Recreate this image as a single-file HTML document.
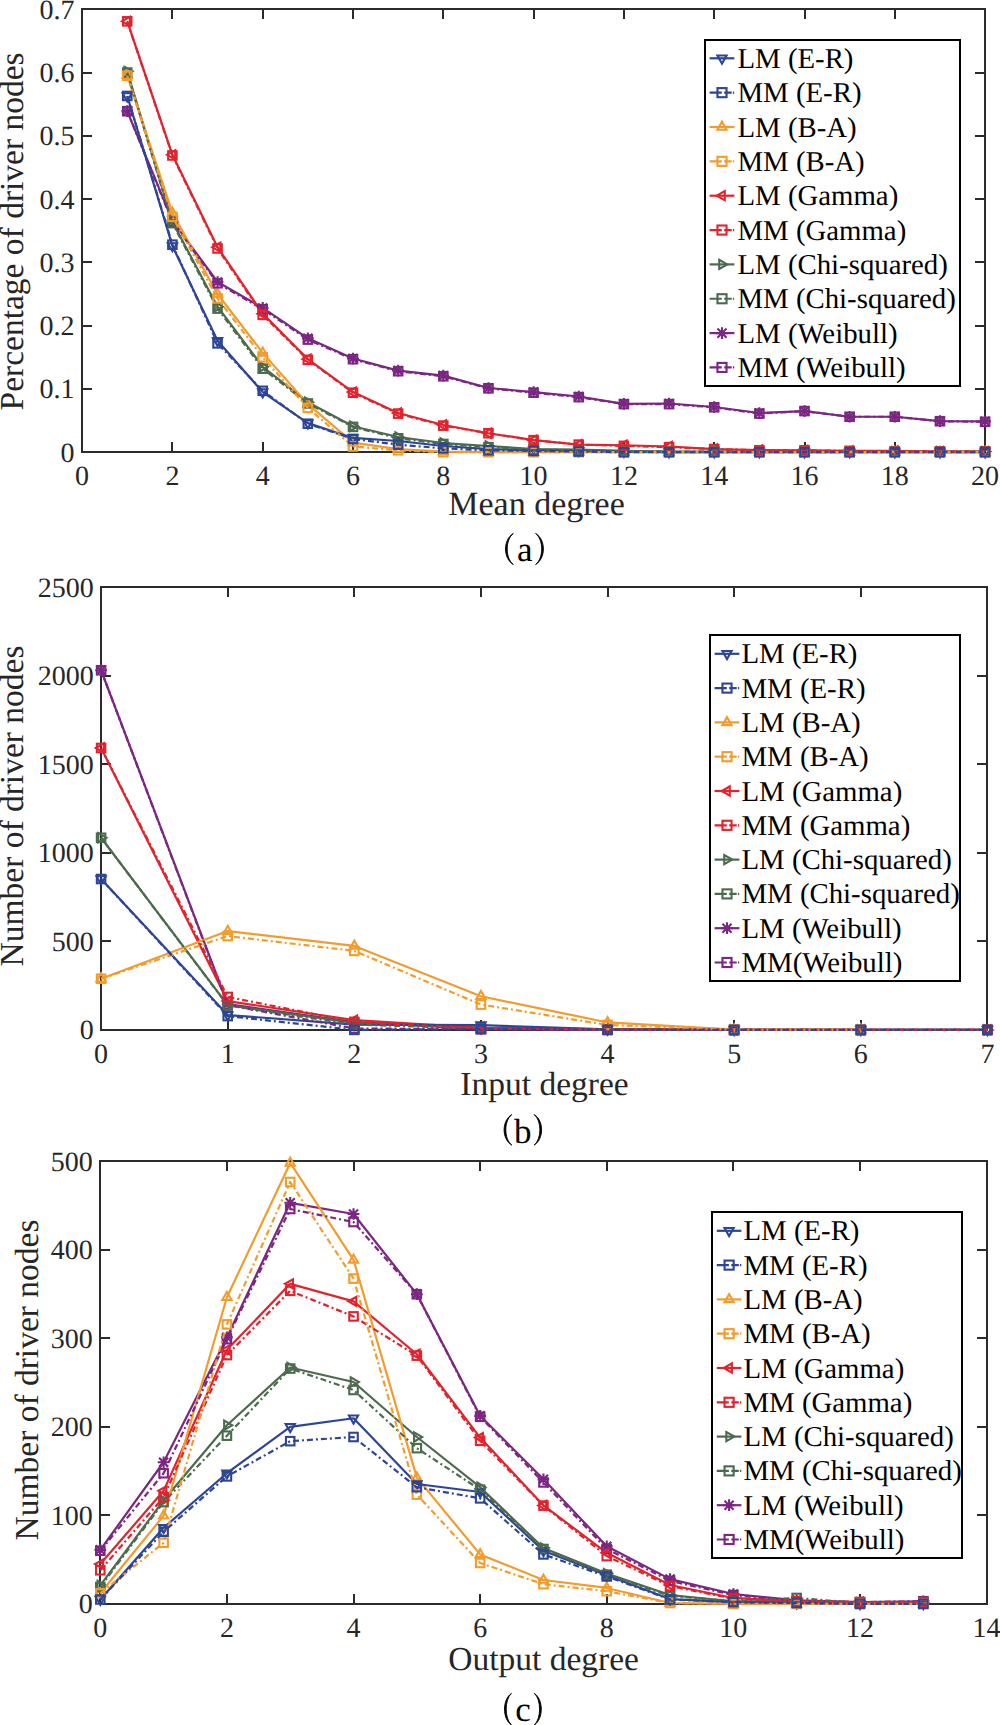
<!DOCTYPE html>
<html><head><meta charset="utf-8"><title>Driver nodes</title>
<style>
html,body{margin:0;padding:0;background:#fff;}
body{width:1000px;height:1725px;overflow:hidden;}
svg{display:block;}
text{font-family:"Liberation Serif", serif;fill:#262626;text-rendering:geometricPrecision;}
</style></head>
<body>
<svg width="1000" height="1725" viewBox="0 0 1000 1725">
<rect width="1000" height="1725" fill="#fff"/>
<path d="M82 452V442M82 9V19M172 452V442M172 9V19M263 452V442M263 9V19M353 452V442M353 9V19M443 452V442M443 9V19M534 452V442M534 9V19M624 452V442M624 9V19M714 452V442M714 9V19M805 452V442M805 9V19M895 452V442M895 9V19M985 452V442M985 9V19M82 452H92M985 452H975M82 389H92M985 389H975M82 326H92M985 326H975M82 262H92M985 262H975M82 199H92M985 199H975M82 136H92M985 136H975M82 73H92M985 73H975M82 9H92M985 9H975" stroke="#2b2b2b" stroke-width="2" fill="none"/><rect x="82" y="9" width="903" height="443" fill="none" stroke="#2b2b2b" stroke-width="2"/><text x="82.1" y="484.7" text-anchor="middle" font-size="28">0</text><text x="172.4" y="484.7" text-anchor="middle" font-size="28">2</text><text x="262.7" y="484.7" text-anchor="middle" font-size="28">4</text><text x="353" y="484.7" text-anchor="middle" font-size="28">6</text><text x="443.3" y="484.7" text-anchor="middle" font-size="28">8</text><text x="533.6" y="484.7" text-anchor="middle" font-size="28">10</text><text x="623.9" y="484.7" text-anchor="middle" font-size="28">12</text><text x="714.2" y="484.7" text-anchor="middle" font-size="28">14</text><text x="804.5" y="484.7" text-anchor="middle" font-size="28">16</text><text x="894.8" y="484.7" text-anchor="middle" font-size="28">18</text><text x="985.1" y="484.7" text-anchor="middle" font-size="28">20</text><text x="74.5" y="461.7" text-anchor="end" font-size="28">0</text><text x="74.5" y="398.43" text-anchor="end" font-size="28">0.1</text><text x="74.5" y="335.16" text-anchor="end" font-size="28">0.2</text><text x="74.5" y="271.89" text-anchor="end" font-size="28">0.3</text><text x="74.5" y="208.61" text-anchor="end" font-size="28">0.4</text><text x="74.5" y="145.34" text-anchor="end" font-size="28">0.5</text><text x="74.5" y="82.07" text-anchor="end" font-size="28">0.6</text><text x="74.5" y="18.8" text-anchor="end" font-size="28">0.7</text><text x="536.5" y="514.6" text-anchor="middle" font-size="34">Mean degree</text><text transform="translate(23 231.4) rotate(-90)" text-anchor="middle" font-size="33.5">Percentage of driver nodes</text><path d="M513.3 533.5C502.9 539.7 502.9 558.3 513.3 564.5C505.17 558.3 505.17 539.7 513.3 533.5Z" fill="#000" stroke="#000" stroke-width="0.9" stroke-linejoin="round"/><path d="M535.6 533.5C546 539.7 546 558.3 535.6 564.5C543.73 558.3 543.73 539.7 535.6 533.5Z" fill="#000" stroke="#000" stroke-width="0.9" stroke-linejoin="round"/><text x="524.8" y="561" text-anchor="middle" font-size="35" style="fill:#000">a</text><path d="M127.25 111.17L172.4 220.63L217.55 282L262.7 307.94L307.85 338.31L353 358.56L398.15 370.58L443.3 375.64L488.45 387.98L533.6 392.09L578.75 396.52L623.9 403.8L669.05 403.48L714.2 407.02L759.35 412.97L804.5 411.07L849.65 416.77L894.8 416.77L939.95 421.2L985.1 421.39" fill="none" stroke="#7b2682" stroke-width="2.2" stroke-linejoin="round"/><path d="M127.25 105.34V117M121.42 111.17H133.08M122.7 106.62L131.8 115.71M122.7 115.71L131.8 106.62" stroke="#7b2682" stroke-width="2.1" fill="none"/><path d="M172.4 214.8V226.46M166.57 220.63H178.23M167.85 216.08L176.95 225.17M167.85 225.17L176.95 216.08" stroke="#7b2682" stroke-width="2.1" fill="none"/><path d="M217.55 276.17V287.83M211.72 282H223.38M213 277.45L222.1 286.55M213 286.55L222.1 277.45" stroke="#7b2682" stroke-width="2.1" fill="none"/><path d="M262.7 302.11V313.77M256.87 307.94H268.53M258.15 303.39L267.25 312.49M258.15 312.49L267.25 303.39" stroke="#7b2682" stroke-width="2.1" fill="none"/><path d="M307.85 332.48V344.14M302.02 338.31H313.68M303.3 333.76L312.4 342.86M303.3 342.86L312.4 333.76" stroke="#7b2682" stroke-width="2.1" fill="none"/><path d="M353 352.73V364.39M347.17 358.56H358.83M348.45 354.01L357.55 363.11M348.45 363.11L357.55 354.01" stroke="#7b2682" stroke-width="2.1" fill="none"/><path d="M398.15 364.75V376.41M392.32 370.58H403.98M393.6 366.03L402.7 375.13M393.6 375.13L402.7 366.03" stroke="#7b2682" stroke-width="2.1" fill="none"/><path d="M443.3 369.81V381.47M437.47 375.64H449.13M438.75 371.09L447.85 380.19M438.75 380.19L447.85 371.09" stroke="#7b2682" stroke-width="2.1" fill="none"/><path d="M488.45 382.15V393.81M482.62 387.98H494.28M483.9 383.43L493 392.53M483.9 392.53L493 383.43" stroke="#7b2682" stroke-width="2.1" fill="none"/><path d="M533.6 386.26V397.92M527.77 392.09H539.43M529.05 387.54L538.15 396.64M529.05 396.64L538.15 387.54" stroke="#7b2682" stroke-width="2.1" fill="none"/><path d="M578.75 390.69V402.35M572.92 396.52H584.58M574.2 391.97L583.3 401.07M574.2 401.07L583.3 391.97" stroke="#7b2682" stroke-width="2.1" fill="none"/><path d="M623.9 397.97V409.63M618.07 403.8H629.73M619.35 399.25L628.45 408.34M619.35 408.34L628.45 399.25" stroke="#7b2682" stroke-width="2.1" fill="none"/><path d="M669.05 397.65V409.31M663.22 403.48H674.88M664.5 398.93L673.6 408.03M664.5 408.03L673.6 398.93" stroke="#7b2682" stroke-width="2.1" fill="none"/><path d="M714.2 401.19V412.85M708.37 407.02H720.03M709.65 402.48L718.75 411.57M709.65 411.57L718.75 402.48" stroke="#7b2682" stroke-width="2.1" fill="none"/><path d="M759.35 407.14V418.8M753.52 412.97H765.18M754.8 408.42L763.9 417.52M754.8 417.52L763.9 408.42" stroke="#7b2682" stroke-width="2.1" fill="none"/><path d="M804.5 405.24V416.9M798.67 411.07H810.33M799.95 406.53L809.05 415.62M799.95 415.62L809.05 406.53" stroke="#7b2682" stroke-width="2.1" fill="none"/><path d="M849.65 410.94V422.6M843.82 416.77H855.48M845.1 412.22L854.2 421.32M845.1 421.32L854.2 412.22" stroke="#7b2682" stroke-width="2.1" fill="none"/><path d="M894.8 410.94V422.6M888.97 416.77H900.63M890.25 412.22L899.35 421.32M890.25 421.32L899.35 412.22" stroke="#7b2682" stroke-width="2.1" fill="none"/><path d="M939.95 415.37V427.03M934.12 421.2H945.78M935.4 416.65L944.5 425.74M935.4 425.74L944.5 416.65" stroke="#7b2682" stroke-width="2.1" fill="none"/><path d="M985.1 415.56V427.22M979.27 421.39H990.93M980.55 416.84L989.65 425.93M980.55 425.93L989.65 416.84" stroke="#7b2682" stroke-width="2.1" fill="none"/><path d="M127.25 71.31L172.4 221.89L217.55 306.68L262.7 366.78L307.85 402.22L353 426.26L398.15 437.01L443.3 443.03L488.45 446L533.6 449.04L578.75 449.67L623.9 450.93L669.05 451.57L714.2 451.57L759.35 451.57L804.5 451.57L849.65 451.57L894.8 451.57L939.95 451.57L985.1 451.57" fill="none" stroke="#4c6b4e" stroke-width="2.2" stroke-linejoin="round"/><polygon points="124.49,66.71 124.49,75.91 132.54,71.31" fill="none" stroke="#4c6b4e" stroke-width="2.1" stroke-linejoin="miter"/><polygon points="169.64,217.29 169.64,226.49 177.69,221.89" fill="none" stroke="#4c6b4e" stroke-width="2.1" stroke-linejoin="miter"/><polygon points="214.79,302.08 214.79,311.28 222.84,306.68" fill="none" stroke="#4c6b4e" stroke-width="2.1" stroke-linejoin="miter"/><polygon points="259.94,362.18 259.94,371.38 267.99,366.78" fill="none" stroke="#4c6b4e" stroke-width="2.1" stroke-linejoin="miter"/><polygon points="305.09,397.62 305.09,406.82 313.14,402.22" fill="none" stroke="#4c6b4e" stroke-width="2.1" stroke-linejoin="miter"/><polygon points="350.24,421.66 350.24,430.86 358.29,426.26" fill="none" stroke="#4c6b4e" stroke-width="2.1" stroke-linejoin="miter"/><polygon points="395.39,432.41 395.39,441.61 403.44,437.01" fill="none" stroke="#4c6b4e" stroke-width="2.1" stroke-linejoin="miter"/><polygon points="440.54,438.43 440.54,447.63 448.59,443.03" fill="none" stroke="#4c6b4e" stroke-width="2.1" stroke-linejoin="miter"/><polygon points="485.69,441.4 485.69,450.6 493.74,446" fill="none" stroke="#4c6b4e" stroke-width="2.1" stroke-linejoin="miter"/><polygon points="530.84,444.44 530.84,453.64 538.89,449.04" fill="none" stroke="#4c6b4e" stroke-width="2.1" stroke-linejoin="miter"/><polygon points="575.99,445.07 575.99,454.27 584.04,449.67" fill="none" stroke="#4c6b4e" stroke-width="2.1" stroke-linejoin="miter"/><polygon points="621.14,446.33 621.14,455.53 629.19,450.93" fill="none" stroke="#4c6b4e" stroke-width="2.1" stroke-linejoin="miter"/><polygon points="666.29,446.97 666.29,456.17 674.34,451.57" fill="none" stroke="#4c6b4e" stroke-width="2.1" stroke-linejoin="miter"/><polygon points="711.44,446.97 711.44,456.17 719.49,451.57" fill="none" stroke="#4c6b4e" stroke-width="2.1" stroke-linejoin="miter"/><polygon points="756.59,446.97 756.59,456.17 764.64,451.57" fill="none" stroke="#4c6b4e" stroke-width="2.1" stroke-linejoin="miter"/><polygon points="801.74,446.97 801.74,456.17 809.79,451.57" fill="none" stroke="#4c6b4e" stroke-width="2.1" stroke-linejoin="miter"/><polygon points="846.89,446.97 846.89,456.17 854.94,451.57" fill="none" stroke="#4c6b4e" stroke-width="2.1" stroke-linejoin="miter"/><polygon points="892.04,446.97 892.04,456.17 900.09,451.57" fill="none" stroke="#4c6b4e" stroke-width="2.1" stroke-linejoin="miter"/><polygon points="937.19,446.97 937.19,456.17 945.24,451.57" fill="none" stroke="#4c6b4e" stroke-width="2.1" stroke-linejoin="miter"/><polygon points="982.34,446.97 982.34,456.17 990.39,451.57" fill="none" stroke="#4c6b4e" stroke-width="2.1" stroke-linejoin="miter"/><path d="M127.25 21.32L172.4 154.82L217.55 247.2L262.7 313.64L307.85 359.19L353 392.09L398.15 412.97L443.3 424.99L488.45 433.22L533.6 440.18L578.75 444.61L623.9 445.24L669.05 446.51L714.2 449.04L759.35 449.99L804.5 450.3L849.65 450.93L894.8 450.93L939.95 451.57L985.1 451.57" fill="none" stroke="#e2232d" stroke-width="2.2" stroke-linejoin="round"/><polygon points="130.01,16.72 130.01,25.92 121.96,21.32" fill="none" stroke="#e2232d" stroke-width="2.1" stroke-linejoin="miter"/><polygon points="175.16,150.22 175.16,159.42 167.11,154.82" fill="none" stroke="#e2232d" stroke-width="2.1" stroke-linejoin="miter"/><polygon points="220.31,242.6 220.31,251.8 212.26,247.2" fill="none" stroke="#e2232d" stroke-width="2.1" stroke-linejoin="miter"/><polygon points="265.46,309.04 265.46,318.24 257.41,313.64" fill="none" stroke="#e2232d" stroke-width="2.1" stroke-linejoin="miter"/><polygon points="310.61,354.59 310.61,363.79 302.56,359.19" fill="none" stroke="#e2232d" stroke-width="2.1" stroke-linejoin="miter"/><polygon points="355.76,387.49 355.76,396.69 347.71,392.09" fill="none" stroke="#e2232d" stroke-width="2.1" stroke-linejoin="miter"/><polygon points="400.91,408.37 400.91,417.57 392.86,412.97" fill="none" stroke="#e2232d" stroke-width="2.1" stroke-linejoin="miter"/><polygon points="446.06,420.39 446.06,429.59 438.01,424.99" fill="none" stroke="#e2232d" stroke-width="2.1" stroke-linejoin="miter"/><polygon points="491.21,428.62 491.21,437.82 483.16,433.22" fill="none" stroke="#e2232d" stroke-width="2.1" stroke-linejoin="miter"/><polygon points="536.36,435.58 536.36,444.78 528.31,440.18" fill="none" stroke="#e2232d" stroke-width="2.1" stroke-linejoin="miter"/><polygon points="581.51,440.01 581.51,449.21 573.46,444.61" fill="none" stroke="#e2232d" stroke-width="2.1" stroke-linejoin="miter"/><polygon points="626.66,440.64 626.66,449.84 618.61,445.24" fill="none" stroke="#e2232d" stroke-width="2.1" stroke-linejoin="miter"/><polygon points="671.81,441.91 671.81,451.11 663.76,446.51" fill="none" stroke="#e2232d" stroke-width="2.1" stroke-linejoin="miter"/><polygon points="716.96,444.44 716.96,453.64 708.91,449.04" fill="none" stroke="#e2232d" stroke-width="2.1" stroke-linejoin="miter"/><polygon points="762.11,445.39 762.11,454.59 754.06,449.99" fill="none" stroke="#e2232d" stroke-width="2.1" stroke-linejoin="miter"/><polygon points="807.26,445.7 807.26,454.9 799.21,450.3" fill="none" stroke="#e2232d" stroke-width="2.1" stroke-linejoin="miter"/><polygon points="852.41,446.33 852.41,455.53 844.36,450.93" fill="none" stroke="#e2232d" stroke-width="2.1" stroke-linejoin="miter"/><polygon points="897.56,446.33 897.56,455.53 889.51,450.93" fill="none" stroke="#e2232d" stroke-width="2.1" stroke-linejoin="miter"/><polygon points="942.71,446.97 942.71,456.17 934.66,451.57" fill="none" stroke="#e2232d" stroke-width="2.1" stroke-linejoin="miter"/><polygon points="987.86,446.97 987.86,456.17 979.81,451.57" fill="none" stroke="#e2232d" stroke-width="2.1" stroke-linejoin="miter"/><path d="M127.25 75.1L172.4 213.03L217.55 294.02L262.7 352.86L307.85 404.11L353 442.71L398.15 449.04L443.3 451.57L488.45 452.2L533.6 452.2L578.75 452.2L623.9 452.2L669.05 452.2L714.2 452.2L759.35 452.2L804.5 452.2L849.65 452.2L894.8 452.2L939.95 452.2L985.1 452.2" fill="none" stroke="#f39c2c" stroke-width="2.2" stroke-linejoin="round"/><polygon points="122.65,77.86 131.85,77.86 127.25,69.81" fill="none" stroke="#f39c2c" stroke-width="2.1" stroke-linejoin="miter"/><polygon points="167.8,215.79 177,215.79 172.4,207.74" fill="none" stroke="#f39c2c" stroke-width="2.1" stroke-linejoin="miter"/><polygon points="212.95,296.78 222.15,296.78 217.55,288.73" fill="none" stroke="#f39c2c" stroke-width="2.1" stroke-linejoin="miter"/><polygon points="258.1,355.62 267.3,355.62 262.7,347.57" fill="none" stroke="#f39c2c" stroke-width="2.1" stroke-linejoin="miter"/><polygon points="303.25,406.87 312.45,406.87 307.85,398.82" fill="none" stroke="#f39c2c" stroke-width="2.1" stroke-linejoin="miter"/><polygon points="348.4,445.47 357.6,445.47 353,437.42" fill="none" stroke="#f39c2c" stroke-width="2.1" stroke-linejoin="miter"/><polygon points="393.55,451.8 402.75,451.8 398.15,443.75" fill="none" stroke="#f39c2c" stroke-width="2.1" stroke-linejoin="miter"/><polygon points="438.7,454.33 447.9,454.33 443.3,446.28" fill="none" stroke="#f39c2c" stroke-width="2.1" stroke-linejoin="miter"/><polygon points="483.85,454.96 493.05,454.96 488.45,446.91" fill="none" stroke="#f39c2c" stroke-width="2.1" stroke-linejoin="miter"/><polygon points="529,454.96 538.2,454.96 533.6,446.91" fill="none" stroke="#f39c2c" stroke-width="2.1" stroke-linejoin="miter"/><polygon points="574.15,454.96 583.35,454.96 578.75,446.91" fill="none" stroke="#f39c2c" stroke-width="2.1" stroke-linejoin="miter"/><polygon points="619.3,454.96 628.5,454.96 623.9,446.91" fill="none" stroke="#f39c2c" stroke-width="2.1" stroke-linejoin="miter"/><polygon points="664.45,454.96 673.65,454.96 669.05,446.91" fill="none" stroke="#f39c2c" stroke-width="2.1" stroke-linejoin="miter"/><polygon points="709.6,454.96 718.8,454.96 714.2,446.91" fill="none" stroke="#f39c2c" stroke-width="2.1" stroke-linejoin="miter"/><polygon points="754.75,454.96 763.95,454.96 759.35,446.91" fill="none" stroke="#f39c2c" stroke-width="2.1" stroke-linejoin="miter"/><polygon points="799.9,454.96 809.1,454.96 804.5,446.91" fill="none" stroke="#f39c2c" stroke-width="2.1" stroke-linejoin="miter"/><polygon points="845.05,454.96 854.25,454.96 849.65,446.91" fill="none" stroke="#f39c2c" stroke-width="2.1" stroke-linejoin="miter"/><polygon points="890.2,454.96 899.4,454.96 894.8,446.91" fill="none" stroke="#f39c2c" stroke-width="2.1" stroke-linejoin="miter"/><polygon points="935.35,454.96 944.55,454.96 939.95,446.91" fill="none" stroke="#f39c2c" stroke-width="2.1" stroke-linejoin="miter"/><polygon points="980.5,454.96 989.7,454.96 985.1,446.91" fill="none" stroke="#f39c2c" stroke-width="2.1" stroke-linejoin="miter"/><path d="M127.25 95.98L172.4 245.94L217.55 340.84L262.7 392.09L307.85 423.1L353 437.96L398.15 441L443.3 446L488.45 449.04L533.6 450.3L578.75 450.93L623.9 451.57L669.05 452.2L714.2 452.2L759.35 452.2L804.5 452.2L849.65 452.2L894.8 452.2L939.95 452.2L985.1 452.2" fill="none" stroke="#2d4597" stroke-width="2.2" stroke-linejoin="round"/><polygon points="122.65,93.22 131.85,93.22 127.25,101.27" fill="none" stroke="#2d4597" stroke-width="2.1" stroke-linejoin="miter"/><polygon points="167.8,243.18 177,243.18 172.4,251.23" fill="none" stroke="#2d4597" stroke-width="2.1" stroke-linejoin="miter"/><polygon points="212.95,338.08 222.15,338.08 217.55,346.13" fill="none" stroke="#2d4597" stroke-width="2.1" stroke-linejoin="miter"/><polygon points="258.1,389.33 267.3,389.33 262.7,397.38" fill="none" stroke="#2d4597" stroke-width="2.1" stroke-linejoin="miter"/><polygon points="303.25,420.34 312.45,420.34 307.85,428.39" fill="none" stroke="#2d4597" stroke-width="2.1" stroke-linejoin="miter"/><polygon points="348.4,435.2 357.6,435.2 353,443.25" fill="none" stroke="#2d4597" stroke-width="2.1" stroke-linejoin="miter"/><polygon points="393.55,438.24 402.75,438.24 398.15,446.29" fill="none" stroke="#2d4597" stroke-width="2.1" stroke-linejoin="miter"/><polygon points="438.7,443.24 447.9,443.24 443.3,451.29" fill="none" stroke="#2d4597" stroke-width="2.1" stroke-linejoin="miter"/><polygon points="483.85,446.28 493.05,446.28 488.45,454.33" fill="none" stroke="#2d4597" stroke-width="2.1" stroke-linejoin="miter"/><polygon points="529,447.54 538.2,447.54 533.6,455.59" fill="none" stroke="#2d4597" stroke-width="2.1" stroke-linejoin="miter"/><polygon points="574.15,448.17 583.35,448.17 578.75,456.22" fill="none" stroke="#2d4597" stroke-width="2.1" stroke-linejoin="miter"/><polygon points="619.3,448.81 628.5,448.81 623.9,456.86" fill="none" stroke="#2d4597" stroke-width="2.1" stroke-linejoin="miter"/><polygon points="664.45,449.44 673.65,449.44 669.05,457.49" fill="none" stroke="#2d4597" stroke-width="2.1" stroke-linejoin="miter"/><polygon points="709.6,449.44 718.8,449.44 714.2,457.49" fill="none" stroke="#2d4597" stroke-width="2.1" stroke-linejoin="miter"/><polygon points="754.75,449.44 763.95,449.44 759.35,457.49" fill="none" stroke="#2d4597" stroke-width="2.1" stroke-linejoin="miter"/><polygon points="799.9,449.44 809.1,449.44 804.5,457.49" fill="none" stroke="#2d4597" stroke-width="2.1" stroke-linejoin="miter"/><polygon points="845.05,449.44 854.25,449.44 849.65,457.49" fill="none" stroke="#2d4597" stroke-width="2.1" stroke-linejoin="miter"/><polygon points="890.2,449.44 899.4,449.44 894.8,457.49" fill="none" stroke="#2d4597" stroke-width="2.1" stroke-linejoin="miter"/><polygon points="935.35,449.44 944.55,449.44 939.95,457.49" fill="none" stroke="#2d4597" stroke-width="2.1" stroke-linejoin="miter"/><polygon points="980.5,449.44 989.7,449.44 985.1,457.49" fill="none" stroke="#2d4597" stroke-width="2.1" stroke-linejoin="miter"/><path d="M127.25 111.17L172.4 221.89L217.55 283.27L262.7 309.21L307.85 339.58L353 359.19L398.15 371.21L443.3 376.27L488.45 388.3L533.6 392.72L578.75 397.15L623.9 404.11L669.05 404.11L714.2 407.28L759.35 413.6L804.5 411.07L849.65 416.77L894.8 416.77L939.95 421.2L985.1 421.83" fill="none" stroke="#7b2682" stroke-width="2.2" stroke-linejoin="round" stroke-dasharray="6 3 2 3"/><rect x="123" y="106.92" width="8.5" height="8.5" fill="none" stroke="#7b2682" stroke-width="2.1"/><rect x="168.15" y="217.64" width="8.5" height="8.5" fill="none" stroke="#7b2682" stroke-width="2.1"/><rect x="213.3" y="279.02" width="8.5" height="8.5" fill="none" stroke="#7b2682" stroke-width="2.1"/><rect x="258.45" y="304.96" width="8.5" height="8.5" fill="none" stroke="#7b2682" stroke-width="2.1"/><rect x="303.6" y="335.33" width="8.5" height="8.5" fill="none" stroke="#7b2682" stroke-width="2.1"/><rect x="348.75" y="354.94" width="8.5" height="8.5" fill="none" stroke="#7b2682" stroke-width="2.1"/><rect x="393.9" y="366.96" width="8.5" height="8.5" fill="none" stroke="#7b2682" stroke-width="2.1"/><rect x="439.05" y="372.02" width="8.5" height="8.5" fill="none" stroke="#7b2682" stroke-width="2.1"/><rect x="484.2" y="384.05" width="8.5" height="8.5" fill="none" stroke="#7b2682" stroke-width="2.1"/><rect x="529.35" y="388.47" width="8.5" height="8.5" fill="none" stroke="#7b2682" stroke-width="2.1"/><rect x="574.5" y="392.9" width="8.5" height="8.5" fill="none" stroke="#7b2682" stroke-width="2.1"/><rect x="619.65" y="399.86" width="8.5" height="8.5" fill="none" stroke="#7b2682" stroke-width="2.1"/><rect x="664.8" y="399.86" width="8.5" height="8.5" fill="none" stroke="#7b2682" stroke-width="2.1"/><rect x="709.95" y="403.03" width="8.5" height="8.5" fill="none" stroke="#7b2682" stroke-width="2.1"/><rect x="755.1" y="409.35" width="8.5" height="8.5" fill="none" stroke="#7b2682" stroke-width="2.1"/><rect x="800.25" y="406.82" width="8.5" height="8.5" fill="none" stroke="#7b2682" stroke-width="2.1"/><rect x="845.4" y="412.52" width="8.5" height="8.5" fill="none" stroke="#7b2682" stroke-width="2.1"/><rect x="890.55" y="412.52" width="8.5" height="8.5" fill="none" stroke="#7b2682" stroke-width="2.1"/><rect x="935.7" y="416.95" width="8.5" height="8.5" fill="none" stroke="#7b2682" stroke-width="2.1"/><rect x="980.85" y="417.58" width="8.5" height="8.5" fill="none" stroke="#7b2682" stroke-width="2.1"/><path d="M127.25 72.57L172.4 223.16L217.55 308.57L262.7 368.68L307.85 403.48L353 426.89L398.15 438.28L443.3 443.97L488.45 447.14L533.6 449.67L578.75 450.3L623.9 450.93L669.05 451.57L714.2 451.57L759.35 451.57L804.5 451.57L849.65 451.57L894.8 451.57L939.95 451.57L985.1 451.57" fill="none" stroke="#4c6b4e" stroke-width="2.2" stroke-linejoin="round" stroke-dasharray="6 3 2 3"/><rect x="123" y="68.32" width="8.5" height="8.5" fill="none" stroke="#4c6b4e" stroke-width="2.1"/><rect x="168.15" y="218.91" width="8.5" height="8.5" fill="none" stroke="#4c6b4e" stroke-width="2.1"/><rect x="213.3" y="304.32" width="8.5" height="8.5" fill="none" stroke="#4c6b4e" stroke-width="2.1"/><rect x="258.45" y="364.43" width="8.5" height="8.5" fill="none" stroke="#4c6b4e" stroke-width="2.1"/><rect x="303.6" y="399.23" width="8.5" height="8.5" fill="none" stroke="#4c6b4e" stroke-width="2.1"/><rect x="348.75" y="422.64" width="8.5" height="8.5" fill="none" stroke="#4c6b4e" stroke-width="2.1"/><rect x="393.9" y="434.03" width="8.5" height="8.5" fill="none" stroke="#4c6b4e" stroke-width="2.1"/><rect x="439.05" y="439.72" width="8.5" height="8.5" fill="none" stroke="#4c6b4e" stroke-width="2.1"/><rect x="484.2" y="442.89" width="8.5" height="8.5" fill="none" stroke="#4c6b4e" stroke-width="2.1"/><rect x="529.35" y="445.42" width="8.5" height="8.5" fill="none" stroke="#4c6b4e" stroke-width="2.1"/><rect x="574.5" y="446.05" width="8.5" height="8.5" fill="none" stroke="#4c6b4e" stroke-width="2.1"/><rect x="619.65" y="446.68" width="8.5" height="8.5" fill="none" stroke="#4c6b4e" stroke-width="2.1"/><rect x="664.8" y="447.32" width="8.5" height="8.5" fill="none" stroke="#4c6b4e" stroke-width="2.1"/><rect x="709.95" y="447.32" width="8.5" height="8.5" fill="none" stroke="#4c6b4e" stroke-width="2.1"/><rect x="755.1" y="447.32" width="8.5" height="8.5" fill="none" stroke="#4c6b4e" stroke-width="2.1"/><rect x="800.25" y="447.32" width="8.5" height="8.5" fill="none" stroke="#4c6b4e" stroke-width="2.1"/><rect x="845.4" y="447.32" width="8.5" height="8.5" fill="none" stroke="#4c6b4e" stroke-width="2.1"/><rect x="890.55" y="447.32" width="8.5" height="8.5" fill="none" stroke="#4c6b4e" stroke-width="2.1"/><rect x="935.7" y="447.32" width="8.5" height="8.5" fill="none" stroke="#4c6b4e" stroke-width="2.1"/><rect x="980.85" y="447.32" width="8.5" height="8.5" fill="none" stroke="#4c6b4e" stroke-width="2.1"/><path d="M127.25 21.32L172.4 155.46L217.55 248.47L262.7 314.9L307.85 359.82L353 392.72L398.15 413.6L443.3 425.63L488.45 433.22L533.6 440.18L578.75 444.61L623.9 445.87L669.05 447.14L714.2 449.04L759.35 450.3L804.5 450.3L849.65 450.93L894.8 451.57L939.95 451.57L985.1 451.57" fill="none" stroke="#e2232d" stroke-width="2.2" stroke-linejoin="round" stroke-dasharray="6 3 2 3"/><rect x="123" y="17.07" width="8.5" height="8.5" fill="none" stroke="#e2232d" stroke-width="2.1"/><rect x="168.15" y="151.21" width="8.5" height="8.5" fill="none" stroke="#e2232d" stroke-width="2.1"/><rect x="213.3" y="244.22" width="8.5" height="8.5" fill="none" stroke="#e2232d" stroke-width="2.1"/><rect x="258.45" y="310.65" width="8.5" height="8.5" fill="none" stroke="#e2232d" stroke-width="2.1"/><rect x="303.6" y="355.57" width="8.5" height="8.5" fill="none" stroke="#e2232d" stroke-width="2.1"/><rect x="348.75" y="388.47" width="8.5" height="8.5" fill="none" stroke="#e2232d" stroke-width="2.1"/><rect x="393.9" y="409.35" width="8.5" height="8.5" fill="none" stroke="#e2232d" stroke-width="2.1"/><rect x="439.05" y="421.38" width="8.5" height="8.5" fill="none" stroke="#e2232d" stroke-width="2.1"/><rect x="484.2" y="428.97" width="8.5" height="8.5" fill="none" stroke="#e2232d" stroke-width="2.1"/><rect x="529.35" y="435.93" width="8.5" height="8.5" fill="none" stroke="#e2232d" stroke-width="2.1"/><rect x="574.5" y="440.36" width="8.5" height="8.5" fill="none" stroke="#e2232d" stroke-width="2.1"/><rect x="619.65" y="441.62" width="8.5" height="8.5" fill="none" stroke="#e2232d" stroke-width="2.1"/><rect x="664.8" y="442.89" width="8.5" height="8.5" fill="none" stroke="#e2232d" stroke-width="2.1"/><rect x="709.95" y="444.79" width="8.5" height="8.5" fill="none" stroke="#e2232d" stroke-width="2.1"/><rect x="755.1" y="446.05" width="8.5" height="8.5" fill="none" stroke="#e2232d" stroke-width="2.1"/><rect x="800.25" y="446.05" width="8.5" height="8.5" fill="none" stroke="#e2232d" stroke-width="2.1"/><rect x="845.4" y="446.68" width="8.5" height="8.5" fill="none" stroke="#e2232d" stroke-width="2.1"/><rect x="890.55" y="447.32" width="8.5" height="8.5" fill="none" stroke="#e2232d" stroke-width="2.1"/><rect x="935.7" y="447.32" width="8.5" height="8.5" fill="none" stroke="#e2232d" stroke-width="2.1"/><rect x="980.85" y="447.32" width="8.5" height="8.5" fill="none" stroke="#e2232d" stroke-width="2.1"/><path d="M127.25 75.74L172.4 216.83L217.55 298.45L262.7 357.29L307.85 407.91L353 446.51L398.15 450.3L443.3 452.2L488.45 452.2L533.6 452.2L578.75 452.2L623.9 452.2L669.05 452.2L714.2 452.2L759.35 452.2L804.5 452.2L849.65 452.2L894.8 452.2L939.95 452.2L985.1 452.2" fill="none" stroke="#f39c2c" stroke-width="2.2" stroke-linejoin="round" stroke-dasharray="6 3 2 3"/><rect x="123" y="71.49" width="8.5" height="8.5" fill="none" stroke="#f39c2c" stroke-width="2.1"/><rect x="168.15" y="212.58" width="8.5" height="8.5" fill="none" stroke="#f39c2c" stroke-width="2.1"/><rect x="213.3" y="294.2" width="8.5" height="8.5" fill="none" stroke="#f39c2c" stroke-width="2.1"/><rect x="258.45" y="353.04" width="8.5" height="8.5" fill="none" stroke="#f39c2c" stroke-width="2.1"/><rect x="303.6" y="403.66" width="8.5" height="8.5" fill="none" stroke="#f39c2c" stroke-width="2.1"/><rect x="348.75" y="442.26" width="8.5" height="8.5" fill="none" stroke="#f39c2c" stroke-width="2.1"/><rect x="393.9" y="446.05" width="8.5" height="8.5" fill="none" stroke="#f39c2c" stroke-width="2.1"/><rect x="439.05" y="447.95" width="8.5" height="8.5" fill="none" stroke="#f39c2c" stroke-width="2.1"/><rect x="484.2" y="447.95" width="8.5" height="8.5" fill="none" stroke="#f39c2c" stroke-width="2.1"/><rect x="529.35" y="447.95" width="8.5" height="8.5" fill="none" stroke="#f39c2c" stroke-width="2.1"/><rect x="574.5" y="447.95" width="8.5" height="8.5" fill="none" stroke="#f39c2c" stroke-width="2.1"/><rect x="619.65" y="447.95" width="8.5" height="8.5" fill="none" stroke="#f39c2c" stroke-width="2.1"/><rect x="664.8" y="447.95" width="8.5" height="8.5" fill="none" stroke="#f39c2c" stroke-width="2.1"/><rect x="709.95" y="447.95" width="8.5" height="8.5" fill="none" stroke="#f39c2c" stroke-width="2.1"/><rect x="755.1" y="447.95" width="8.5" height="8.5" fill="none" stroke="#f39c2c" stroke-width="2.1"/><rect x="800.25" y="447.95" width="8.5" height="8.5" fill="none" stroke="#f39c2c" stroke-width="2.1"/><rect x="845.4" y="447.95" width="8.5" height="8.5" fill="none" stroke="#f39c2c" stroke-width="2.1"/><rect x="890.55" y="447.95" width="8.5" height="8.5" fill="none" stroke="#f39c2c" stroke-width="2.1"/><rect x="935.7" y="447.95" width="8.5" height="8.5" fill="none" stroke="#f39c2c" stroke-width="2.1"/><rect x="980.85" y="447.95" width="8.5" height="8.5" fill="none" stroke="#f39c2c" stroke-width="2.1"/><path d="M127.25 95.98L172.4 244.67L217.55 343.37L262.7 390.83L307.85 423.73L353 438.91L398.15 444.61L443.3 448.4L488.45 450.3L533.6 450.93L578.75 451.57L623.9 452.2L669.05 452.2L714.2 452.2L759.35 452.2L804.5 452.2L849.65 452.2L894.8 452.2L939.95 452.2L985.1 452.2" fill="none" stroke="#2d4597" stroke-width="2.2" stroke-linejoin="round" stroke-dasharray="6 3 2 3"/><rect x="123" y="91.73" width="8.5" height="8.5" fill="none" stroke="#2d4597" stroke-width="2.1"/><rect x="168.15" y="240.42" width="8.5" height="8.5" fill="none" stroke="#2d4597" stroke-width="2.1"/><rect x="213.3" y="339.12" width="8.5" height="8.5" fill="none" stroke="#2d4597" stroke-width="2.1"/><rect x="258.45" y="386.58" width="8.5" height="8.5" fill="none" stroke="#2d4597" stroke-width="2.1"/><rect x="303.6" y="419.48" width="8.5" height="8.5" fill="none" stroke="#2d4597" stroke-width="2.1"/><rect x="348.75" y="434.66" width="8.5" height="8.5" fill="none" stroke="#2d4597" stroke-width="2.1"/><rect x="393.9" y="440.36" width="8.5" height="8.5" fill="none" stroke="#2d4597" stroke-width="2.1"/><rect x="439.05" y="444.15" width="8.5" height="8.5" fill="none" stroke="#2d4597" stroke-width="2.1"/><rect x="484.2" y="446.05" width="8.5" height="8.5" fill="none" stroke="#2d4597" stroke-width="2.1"/><rect x="529.35" y="446.68" width="8.5" height="8.5" fill="none" stroke="#2d4597" stroke-width="2.1"/><rect x="574.5" y="447.32" width="8.5" height="8.5" fill="none" stroke="#2d4597" stroke-width="2.1"/><rect x="619.65" y="447.95" width="8.5" height="8.5" fill="none" stroke="#2d4597" stroke-width="2.1"/><rect x="664.8" y="447.95" width="8.5" height="8.5" fill="none" stroke="#2d4597" stroke-width="2.1"/><rect x="709.95" y="447.95" width="8.5" height="8.5" fill="none" stroke="#2d4597" stroke-width="2.1"/><rect x="755.1" y="447.95" width="8.5" height="8.5" fill="none" stroke="#2d4597" stroke-width="2.1"/><rect x="800.25" y="447.95" width="8.5" height="8.5" fill="none" stroke="#2d4597" stroke-width="2.1"/><rect x="845.4" y="447.95" width="8.5" height="8.5" fill="none" stroke="#2d4597" stroke-width="2.1"/><rect x="890.55" y="447.95" width="8.5" height="8.5" fill="none" stroke="#2d4597" stroke-width="2.1"/><rect x="935.7" y="447.95" width="8.5" height="8.5" fill="none" stroke="#2d4597" stroke-width="2.1"/><rect x="980.85" y="447.95" width="8.5" height="8.5" fill="none" stroke="#2d4597" stroke-width="2.1"/><rect x="705" y="40" width="255" height="346" fill="#fff" stroke="#000" stroke-width="2"/><path d="M709.6 58.3H734.4" stroke="#2d4597" stroke-width="2.2"/><polygon points="717.4,55.54 726.6,55.54 722,63.59" fill="none" stroke="#2d4597" stroke-width="2.1" stroke-linejoin="miter"/><text x="737.5" y="67.8" font-size="28.8" style="fill:#000">LM (E-R)</text><path d="M709.6 92.65H721.8M724.2 92.65H731.7M732.9 92.65H734.2" stroke="#2d4597" stroke-width="2.2"/><rect x="717.45" y="88.1" width="9.1" height="9.1" fill="none" stroke="#2d4597" stroke-width="2.1"/><text x="737.5" y="102.15" font-size="28.8" style="fill:#000">MM (E-R)</text><path d="M709.6 127H734.4" stroke="#f39c2c" stroke-width="2.2"/><polygon points="717.4,129.76 726.6,129.76 722,121.71" fill="none" stroke="#f39c2c" stroke-width="2.1" stroke-linejoin="miter"/><text x="737.5" y="136.5" font-size="28.8" style="fill:#000">LM (B-A)</text><path d="M709.6 161.35H721.8M724.2 161.35H731.7M732.9 161.35H734.2" stroke="#f39c2c" stroke-width="2.2"/><rect x="717.45" y="156.8" width="9.1" height="9.1" fill="none" stroke="#f39c2c" stroke-width="2.1"/><text x="737.5" y="170.85" font-size="28.8" style="fill:#000">MM (B-A)</text><path d="M709.6 195.7H734.4" stroke="#e2232d" stroke-width="2.2"/><polygon points="724.76,191.1 724.76,200.3 716.71,195.7" fill="none" stroke="#e2232d" stroke-width="2.1" stroke-linejoin="miter"/><text x="737.5" y="205.2" font-size="28.8" style="fill:#000">LM (Gamma)</text><path d="M709.6 230.05H721.8M724.2 230.05H731.7M732.9 230.05H734.2" stroke="#e2232d" stroke-width="2.2"/><rect x="717.45" y="225.5" width="9.1" height="9.1" fill="none" stroke="#e2232d" stroke-width="2.1"/><text x="737.5" y="239.55" font-size="28.8" style="fill:#000">MM (Gamma)</text><path d="M709.6 264.4H734.4" stroke="#4c6b4e" stroke-width="2.2"/><polygon points="719.24,259.8 719.24,269 727.29,264.4" fill="none" stroke="#4c6b4e" stroke-width="2.1" stroke-linejoin="miter"/><text x="737.5" y="273.9" font-size="28.8" style="fill:#000">LM (Chi-squared)</text><path d="M709.6 298.75H721.8M724.2 298.75H731.7M732.9 298.75H734.2" stroke="#4c6b4e" stroke-width="2.2"/><rect x="717.45" y="294.2" width="9.1" height="9.1" fill="none" stroke="#4c6b4e" stroke-width="2.1"/><text x="737.5" y="308.25" font-size="28.8" style="fill:#000">MM (Chi-squared)</text><path d="M709.6 333.1H734.4" stroke="#7b2682" stroke-width="2.2"/><path d="M722 327.27V338.93M716.17 333.1H727.83M717.45 328.55L726.55 337.65M717.45 337.65L726.55 328.55" stroke="#7b2682" stroke-width="2.1" fill="none"/><text x="737.5" y="342.6" font-size="28.8" style="fill:#000">LM (Weibull)</text><path d="M709.6 367.45H721.8M724.2 367.45H731.7M732.9 367.45H734.2" stroke="#7b2682" stroke-width="2.2"/><rect x="717.45" y="362.9" width="9.1" height="9.1" fill="none" stroke="#7b2682" stroke-width="2.1"/><text x="737.5" y="376.95" font-size="28.8" style="fill:#000">MM (Weibull)</text><path d="M101 1030V1020M101 587V597M228 1030V1020M228 587V597M354 1030V1020M354 587V597M481 1030V1020M481 587V597M608 1030V1020M608 587V597M734 1030V1020M734 587V597M861 1030V1020M861 587V597M987 1030V1020M987 587V597M101 1030H111M987 1030H977M101 941H111M987 941H977M101 853H111M987 853H977M101 764H111M987 764H977M101 676H111M987 676H977M101 587H111M987 587H977" stroke="#2b2b2b" stroke-width="2" fill="none"/><rect x="101" y="587" width="886" height="443" fill="none" stroke="#2b2b2b" stroke-width="2"/><text x="101.1" y="1063" text-anchor="middle" font-size="28">0</text><text x="227.71" y="1063" text-anchor="middle" font-size="28">1</text><text x="354.33" y="1063" text-anchor="middle" font-size="28">2</text><text x="480.94" y="1063" text-anchor="middle" font-size="28">3</text><text x="607.56" y="1063" text-anchor="middle" font-size="28">4</text><text x="734.17" y="1063" text-anchor="middle" font-size="28">5</text><text x="860.79" y="1063" text-anchor="middle" font-size="28">6</text><text x="987.4" y="1063" text-anchor="middle" font-size="28">7</text><text x="93.8" y="1039.4" text-anchor="end" font-size="28">0</text><text x="93.8" y="950.86" text-anchor="end" font-size="28">500</text><text x="93.8" y="862.32" text-anchor="end" font-size="28">1000</text><text x="93.8" y="773.78" text-anchor="end" font-size="28">1500</text><text x="93.8" y="685.24" text-anchor="end" font-size="28">2000</text><text x="93.8" y="596.7" text-anchor="end" font-size="28">2500</text><text x="544.5" y="1095" text-anchor="middle" font-size="33.5">Input degree</text><text transform="translate(23.2 806) rotate(-90)" text-anchor="middle" font-size="33.5">Number of driver nodes</text><path d="M511.8 1114.6C501.53 1120.7 501.53 1139 511.8 1145.1C503.8 1139 503.8 1120.7 511.8 1114.6Z" fill="#000" stroke="#000" stroke-width="0.9" stroke-linejoin="round"/><path d="M534.2 1114.6C544.07 1120.7 544.07 1139 534.2 1145.1C541.8 1139 541.8 1120.7 534.2 1114.6Z" fill="#000" stroke="#000" stroke-width="0.9" stroke-linejoin="round"/><text x="522.7" y="1142.5" text-anchor="middle" font-size="35" style="fill:#000">b</text><path d="M101.1 670.25L227.71 1004.05L354.33 1022.11L480.94 1028.84L607.56 1029.9L734.17 1029.9" fill="none" stroke="#7b2682" stroke-width="2.2" stroke-linejoin="round"/><path d="M101.1 664.42V676.08M95.27 670.25H106.93M96.55 665.7L105.65 674.8M96.55 674.8L105.65 665.7" stroke="#7b2682" stroke-width="2.1" fill="none"/><path d="M227.71 998.22V1009.88M221.88 1004.05H233.54M223.17 999.5L232.26 1008.59M223.17 1008.59L232.26 999.5" stroke="#7b2682" stroke-width="2.1" fill="none"/><path d="M354.33 1016.28V1027.94M348.5 1022.11H360.16M349.78 1017.56L358.88 1026.66M349.78 1026.66L358.88 1017.56" stroke="#7b2682" stroke-width="2.1" fill="none"/><path d="M480.94 1023.01V1034.67M475.11 1028.84H486.77M476.4 1024.29L485.49 1033.38M476.4 1033.38L485.49 1024.29" stroke="#7b2682" stroke-width="2.1" fill="none"/><path d="M607.56 1024.07V1035.73M601.73 1029.9H613.39M603.01 1025.35L612.1 1034.45M603.01 1034.45L612.1 1025.35" stroke="#7b2682" stroke-width="2.1" fill="none"/><path d="M734.17 1024.07V1035.73M728.34 1029.9H740M729.62 1025.35L738.72 1034.45M729.62 1034.45L738.72 1025.35" stroke="#7b2682" stroke-width="2.1" fill="none"/><path d="M101.1 837.77L227.71 1005.11L354.33 1022.82L480.94 1027.78L607.56 1029.37L734.17 1029.9L860.79 1029.9L987.4 1029.9" fill="none" stroke="#4c6b4e" stroke-width="2.2" stroke-linejoin="round"/><polygon points="98.34,833.17 98.34,842.37 106.39,837.77" fill="none" stroke="#4c6b4e" stroke-width="2.1" stroke-linejoin="miter"/><polygon points="224.95,1000.51 224.95,1009.71 233,1005.11" fill="none" stroke="#4c6b4e" stroke-width="2.1" stroke-linejoin="miter"/><polygon points="351.57,1018.22 351.57,1027.42 359.62,1022.82" fill="none" stroke="#4c6b4e" stroke-width="2.1" stroke-linejoin="miter"/><polygon points="478.18,1023.18 478.18,1032.38 486.23,1027.78" fill="none" stroke="#4c6b4e" stroke-width="2.1" stroke-linejoin="miter"/><polygon points="604.8,1024.77 604.8,1033.97 612.85,1029.37" fill="none" stroke="#4c6b4e" stroke-width="2.1" stroke-linejoin="miter"/><polygon points="731.41,1025.3 731.41,1034.5 739.46,1029.9" fill="none" stroke="#4c6b4e" stroke-width="2.1" stroke-linejoin="miter"/><polygon points="858.03,1025.3 858.03,1034.5 866.08,1029.9" fill="none" stroke="#4c6b4e" stroke-width="2.1" stroke-linejoin="miter"/><polygon points="984.64,1025.3 984.64,1034.5 992.69,1029.9" fill="none" stroke="#4c6b4e" stroke-width="2.1" stroke-linejoin="miter"/><path d="M101.1 747.99L227.71 1001.04L354.33 1020.16L480.94 1027.78L607.56 1029.37L734.17 1029.9L860.79 1029.9L987.4 1029.9" fill="none" stroke="#e2232d" stroke-width="2.2" stroke-linejoin="round"/><polygon points="103.86,743.39 103.86,752.59 95.81,747.99" fill="none" stroke="#e2232d" stroke-width="2.1" stroke-linejoin="miter"/><polygon points="230.47,996.44 230.47,1005.64 222.42,1001.04" fill="none" stroke="#e2232d" stroke-width="2.1" stroke-linejoin="miter"/><polygon points="357.09,1015.56 357.09,1024.76 349.04,1020.16" fill="none" stroke="#e2232d" stroke-width="2.1" stroke-linejoin="miter"/><polygon points="483.7,1023.18 483.7,1032.38 475.65,1027.78" fill="none" stroke="#e2232d" stroke-width="2.1" stroke-linejoin="miter"/><polygon points="610.32,1024.77 610.32,1033.97 602.27,1029.37" fill="none" stroke="#e2232d" stroke-width="2.1" stroke-linejoin="miter"/><polygon points="736.93,1025.3 736.93,1034.5 728.88,1029.9" fill="none" stroke="#e2232d" stroke-width="2.1" stroke-linejoin="miter"/><polygon points="863.55,1025.3 863.55,1034.5 855.5,1029.9" fill="none" stroke="#e2232d" stroke-width="2.1" stroke-linejoin="miter"/><polygon points="990.16,1025.3 990.16,1034.5 982.11,1029.9" fill="none" stroke="#e2232d" stroke-width="2.1" stroke-linejoin="miter"/><path d="M101.1 978.72L227.71 931.09L354.33 945.96L480.94 996.25L607.56 1022.46L734.17 1029.55L860.79 1029.72" fill="none" stroke="#f39c2c" stroke-width="2.2" stroke-linejoin="round"/><polygon points="96.5,981.48 105.7,981.48 101.1,973.43" fill="none" stroke="#f39c2c" stroke-width="2.1" stroke-linejoin="miter"/><polygon points="223.11,933.85 232.31,933.85 227.71,925.8" fill="none" stroke="#f39c2c" stroke-width="2.1" stroke-linejoin="miter"/><polygon points="349.73,948.72 358.93,948.72 354.33,940.67" fill="none" stroke="#f39c2c" stroke-width="2.1" stroke-linejoin="miter"/><polygon points="476.34,999.01 485.54,999.01 480.94,990.96" fill="none" stroke="#f39c2c" stroke-width="2.1" stroke-linejoin="miter"/><polygon points="602.96,1025.22 612.16,1025.22 607.56,1017.17" fill="none" stroke="#f39c2c" stroke-width="2.1" stroke-linejoin="miter"/><polygon points="729.57,1032.31 738.77,1032.31 734.17,1024.26" fill="none" stroke="#f39c2c" stroke-width="2.1" stroke-linejoin="miter"/><polygon points="856.19,1032.48 865.39,1032.48 860.79,1024.43" fill="none" stroke="#f39c2c" stroke-width="2.1" stroke-linejoin="miter"/><path d="M101.1 879.03L227.71 1015.03L354.33 1024.59L480.94 1025.12L607.56 1029.37L734.17 1029.72L860.79 1029.9L987.4 1029.9" fill="none" stroke="#2d4597" stroke-width="2.2" stroke-linejoin="round"/><polygon points="96.5,876.27 105.7,876.27 101.1,884.32" fill="none" stroke="#2d4597" stroke-width="2.1" stroke-linejoin="miter"/><polygon points="223.11,1012.27 232.31,1012.27 227.71,1020.32" fill="none" stroke="#2d4597" stroke-width="2.1" stroke-linejoin="miter"/><polygon points="349.73,1021.83 358.93,1021.83 354.33,1029.88" fill="none" stroke="#2d4597" stroke-width="2.1" stroke-linejoin="miter"/><polygon points="476.34,1022.36 485.54,1022.36 480.94,1030.41" fill="none" stroke="#2d4597" stroke-width="2.1" stroke-linejoin="miter"/><polygon points="602.96,1026.61 612.16,1026.61 607.56,1034.66" fill="none" stroke="#2d4597" stroke-width="2.1" stroke-linejoin="miter"/><polygon points="729.57,1026.96 738.77,1026.96 734.17,1035.01" fill="none" stroke="#2d4597" stroke-width="2.1" stroke-linejoin="miter"/><polygon points="856.19,1027.14 865.39,1027.14 860.79,1035.19" fill="none" stroke="#2d4597" stroke-width="2.1" stroke-linejoin="miter"/><polygon points="982.8,1027.14 992,1027.14 987.4,1035.19" fill="none" stroke="#2d4597" stroke-width="2.1" stroke-linejoin="miter"/><path d="M101.1 670.25L227.71 1005.11L354.33 1028.48L480.94 1029.19L607.56 1029.9L734.17 1029.9L860.79 1029.9" fill="none" stroke="#7b2682" stroke-width="2.2" stroke-linejoin="round" stroke-dasharray="6 3 2 3"/><rect x="96.85" y="666" width="8.5" height="8.5" fill="none" stroke="#7b2682" stroke-width="2.1"/><rect x="223.46" y="1000.86" width="8.5" height="8.5" fill="none" stroke="#7b2682" stroke-width="2.1"/><rect x="350.08" y="1024.23" width="8.5" height="8.5" fill="none" stroke="#7b2682" stroke-width="2.1"/><rect x="476.69" y="1024.94" width="8.5" height="8.5" fill="none" stroke="#7b2682" stroke-width="2.1"/><rect x="603.31" y="1025.65" width="8.5" height="8.5" fill="none" stroke="#7b2682" stroke-width="2.1"/><rect x="729.92" y="1025.65" width="8.5" height="8.5" fill="none" stroke="#7b2682" stroke-width="2.1"/><rect x="856.54" y="1025.65" width="8.5" height="8.5" fill="none" stroke="#7b2682" stroke-width="2.1"/><path d="M101.1 837.77L227.71 1005.46L354.33 1024.59L480.94 1028.48L607.56 1029.55L734.17 1029.9L860.79 1029.9L987.4 1029.9" fill="none" stroke="#4c6b4e" stroke-width="2.2" stroke-linejoin="round" stroke-dasharray="6 3 2 3"/><rect x="96.85" y="833.52" width="8.5" height="8.5" fill="none" stroke="#4c6b4e" stroke-width="2.1"/><rect x="223.46" y="1001.21" width="8.5" height="8.5" fill="none" stroke="#4c6b4e" stroke-width="2.1"/><rect x="350.08" y="1020.34" width="8.5" height="8.5" fill="none" stroke="#4c6b4e" stroke-width="2.1"/><rect x="476.69" y="1024.23" width="8.5" height="8.5" fill="none" stroke="#4c6b4e" stroke-width="2.1"/><rect x="603.31" y="1025.3" width="8.5" height="8.5" fill="none" stroke="#4c6b4e" stroke-width="2.1"/><rect x="729.92" y="1025.65" width="8.5" height="8.5" fill="none" stroke="#4c6b4e" stroke-width="2.1"/><rect x="856.54" y="1025.65" width="8.5" height="8.5" fill="none" stroke="#4c6b4e" stroke-width="2.1"/><rect x="983.15" y="1025.65" width="8.5" height="8.5" fill="none" stroke="#4c6b4e" stroke-width="2.1"/><path d="M101.1 747.99L227.71 996.96L354.33 1021.93L480.94 1028.48L607.56 1029.55L734.17 1029.9L860.79 1029.9L987.4 1029.9" fill="none" stroke="#e2232d" stroke-width="2.2" stroke-linejoin="round" stroke-dasharray="6 3 2 3"/><rect x="96.85" y="743.74" width="8.5" height="8.5" fill="none" stroke="#e2232d" stroke-width="2.1"/><rect x="223.46" y="992.71" width="8.5" height="8.5" fill="none" stroke="#e2232d" stroke-width="2.1"/><rect x="350.08" y="1017.68" width="8.5" height="8.5" fill="none" stroke="#e2232d" stroke-width="2.1"/><rect x="476.69" y="1024.23" width="8.5" height="8.5" fill="none" stroke="#e2232d" stroke-width="2.1"/><rect x="603.31" y="1025.3" width="8.5" height="8.5" fill="none" stroke="#e2232d" stroke-width="2.1"/><rect x="729.92" y="1025.65" width="8.5" height="8.5" fill="none" stroke="#e2232d" stroke-width="2.1"/><rect x="856.54" y="1025.65" width="8.5" height="8.5" fill="none" stroke="#e2232d" stroke-width="2.1"/><rect x="983.15" y="1025.65" width="8.5" height="8.5" fill="none" stroke="#e2232d" stroke-width="2.1"/><path d="M101.1 978.72L227.71 936.05L354.33 950.92L480.94 1004.58L607.56 1024.94L734.17 1029.55L860.79 1029.72" fill="none" stroke="#f39c2c" stroke-width="2.2" stroke-linejoin="round" stroke-dasharray="6 3 2 3"/><rect x="96.85" y="974.47" width="8.5" height="8.5" fill="none" stroke="#f39c2c" stroke-width="2.1"/><rect x="223.46" y="931.8" width="8.5" height="8.5" fill="none" stroke="#f39c2c" stroke-width="2.1"/><rect x="350.08" y="946.67" width="8.5" height="8.5" fill="none" stroke="#f39c2c" stroke-width="2.1"/><rect x="476.69" y="1000.33" width="8.5" height="8.5" fill="none" stroke="#f39c2c" stroke-width="2.1"/><rect x="603.31" y="1020.69" width="8.5" height="8.5" fill="none" stroke="#f39c2c" stroke-width="2.1"/><rect x="729.92" y="1025.3" width="8.5" height="8.5" fill="none" stroke="#f39c2c" stroke-width="2.1"/><rect x="856.54" y="1025.47" width="8.5" height="8.5" fill="none" stroke="#f39c2c" stroke-width="2.1"/><path d="M101.1 879.03L227.71 1016.09L354.33 1029.9L480.94 1029.01L607.56 1029.72L734.17 1029.9L860.79 1029.9L987.4 1029.9" fill="none" stroke="#2d4597" stroke-width="2.2" stroke-linejoin="round" stroke-dasharray="6 3 2 3"/><rect x="96.85" y="874.78" width="8.5" height="8.5" fill="none" stroke="#2d4597" stroke-width="2.1"/><rect x="223.46" y="1011.84" width="8.5" height="8.5" fill="none" stroke="#2d4597" stroke-width="2.1"/><rect x="350.08" y="1025.65" width="8.5" height="8.5" fill="none" stroke="#2d4597" stroke-width="2.1"/><rect x="476.69" y="1024.76" width="8.5" height="8.5" fill="none" stroke="#2d4597" stroke-width="2.1"/><rect x="603.31" y="1025.47" width="8.5" height="8.5" fill="none" stroke="#2d4597" stroke-width="2.1"/><rect x="729.92" y="1025.65" width="8.5" height="8.5" fill="none" stroke="#2d4597" stroke-width="2.1"/><rect x="856.54" y="1025.65" width="8.5" height="8.5" fill="none" stroke="#2d4597" stroke-width="2.1"/><rect x="983.15" y="1025.65" width="8.5" height="8.5" fill="none" stroke="#2d4597" stroke-width="2.1"/><rect x="710" y="635" width="250" height="346" fill="#fff" stroke="#000" stroke-width="2"/><path d="M714.6 653.8H739.4" stroke="#2d4597" stroke-width="2.2"/><polygon points="722.4,651.04 731.6,651.04 727,659.09" fill="none" stroke="#2d4597" stroke-width="2.1" stroke-linejoin="miter"/><text x="741.5" y="663.3" font-size="28.8" style="fill:#000">LM (E-R)</text><path d="M714.6 688.1H726.8M729.2 688.1H736.7M737.9 688.1H739.2" stroke="#2d4597" stroke-width="2.2"/><rect x="722.45" y="683.55" width="9.1" height="9.1" fill="none" stroke="#2d4597" stroke-width="2.1"/><text x="741.5" y="697.6" font-size="28.8" style="fill:#000">MM (E-R)</text><path d="M714.6 722.4H739.4" stroke="#f39c2c" stroke-width="2.2"/><polygon points="722.4,725.16 731.6,725.16 727,717.11" fill="none" stroke="#f39c2c" stroke-width="2.1" stroke-linejoin="miter"/><text x="741.5" y="731.9" font-size="28.8" style="fill:#000">LM (B-A)</text><path d="M714.6 756.7H726.8M729.2 756.7H736.7M737.9 756.7H739.2" stroke="#f39c2c" stroke-width="2.2"/><rect x="722.45" y="752.15" width="9.1" height="9.1" fill="none" stroke="#f39c2c" stroke-width="2.1"/><text x="741.5" y="766.2" font-size="28.8" style="fill:#000">MM (B-A)</text><path d="M714.6 791H739.4" stroke="#e2232d" stroke-width="2.2"/><polygon points="729.76,786.4 729.76,795.6 721.71,791" fill="none" stroke="#e2232d" stroke-width="2.1" stroke-linejoin="miter"/><text x="741.5" y="800.5" font-size="28.8" style="fill:#000">LM (Gamma)</text><path d="M714.6 825.3H726.8M729.2 825.3H736.7M737.9 825.3H739.2" stroke="#e2232d" stroke-width="2.2"/><rect x="722.45" y="820.75" width="9.1" height="9.1" fill="none" stroke="#e2232d" stroke-width="2.1"/><text x="741.5" y="834.8" font-size="28.8" style="fill:#000">MM (Gamma)</text><path d="M714.6 859.6H739.4" stroke="#4c6b4e" stroke-width="2.2"/><polygon points="724.24,855 724.24,864.2 732.29,859.6" fill="none" stroke="#4c6b4e" stroke-width="2.1" stroke-linejoin="miter"/><text x="741.5" y="869.1" font-size="28.8" style="fill:#000">LM (Chi-squared)</text><path d="M714.6 893.9H726.8M729.2 893.9H736.7M737.9 893.9H739.2" stroke="#4c6b4e" stroke-width="2.2"/><rect x="722.45" y="889.35" width="9.1" height="9.1" fill="none" stroke="#4c6b4e" stroke-width="2.1"/><text x="741.5" y="903.4" font-size="28.8" style="fill:#000">MM (Chi-squared)</text><path d="M714.6 928.2H739.4" stroke="#7b2682" stroke-width="2.2"/><path d="M727 922.37V934.03M721.17 928.2H732.83M722.45 923.65L731.55 932.75M722.45 932.75L731.55 923.65" stroke="#7b2682" stroke-width="2.1" fill="none"/><text x="741.5" y="937.7" font-size="28.8" style="fill:#000">LM (Weibull)</text><path d="M714.6 962.5H726.8M729.2 962.5H736.7M737.9 962.5H739.2" stroke="#7b2682" stroke-width="2.2"/><rect x="722.45" y="957.95" width="9.1" height="9.1" fill="none" stroke="#7b2682" stroke-width="2.1"/><text x="741.5" y="972" font-size="28.8" style="fill:#000">MM(Weibull)</text><path d="M100 1604V1594M100 1161V1171M227 1604V1594M227 1161V1171M354 1604V1594M354 1161V1171M480 1604V1594M480 1161V1171M607 1604V1594M607 1161V1171M733 1604V1594M733 1161V1171M860 1604V1594M860 1161V1171M987 1604V1594M987 1161V1171M100 1604H110M987 1604H977M100 1515H110M987 1515H977M100 1427H110M987 1427H977M100 1338H110M987 1338H977M100 1250H110M987 1250H977M100 1161H110M987 1161H977" stroke="#2b2b2b" stroke-width="2" fill="none"/><rect x="100" y="1161" width="887" height="443" fill="none" stroke="#2b2b2b" stroke-width="2"/><text x="100.3" y="1636.5" text-anchor="middle" font-size="28">0</text><text x="226.91" y="1636.5" text-anchor="middle" font-size="28">2</text><text x="353.53" y="1636.5" text-anchor="middle" font-size="28">4</text><text x="480.14" y="1636.5" text-anchor="middle" font-size="28">6</text><text x="606.76" y="1636.5" text-anchor="middle" font-size="28">8</text><text x="733.37" y="1636.5" text-anchor="middle" font-size="28">10</text><text x="859.99" y="1636.5" text-anchor="middle" font-size="28">12</text><text x="986.6" y="1636.5" text-anchor="middle" font-size="28">14</text><text x="92.7" y="1613.4" text-anchor="end" font-size="28">0</text><text x="92.7" y="1524.86" text-anchor="end" font-size="28">100</text><text x="92.7" y="1436.32" text-anchor="end" font-size="28">200</text><text x="92.7" y="1347.78" text-anchor="end" font-size="28">300</text><text x="92.7" y="1259.24" text-anchor="end" font-size="28">400</text><text x="92.7" y="1170.7" text-anchor="end" font-size="28">500</text><text x="543.6" y="1670.3" text-anchor="middle" font-size="33.5">Output degree</text><text transform="translate(38.1 1380) rotate(-90)" text-anchor="middle" font-size="33.5">Number of driver nodes</text><path d="M511.4 1693.4C502.2 1699.7 502.2 1718.6 511.4 1724.9C504.47 1718.6 504.47 1699.7 511.4 1693.4Z" fill="#000" stroke="#000" stroke-width="0.9" stroke-linejoin="round"/><path d="M534.4 1693.4C543.6 1699.7 543.6 1718.6 534.4 1724.9C541.33 1718.6 541.33 1699.7 534.4 1693.4Z" fill="#000" stroke="#000" stroke-width="0.9" stroke-linejoin="round"/><text x="522.9" y="1721.3" text-anchor="middle" font-size="35" style="fill:#000">c</text><path d="M100.3 1549.89L163.61 1462.24L226.91 1337.39L290.22 1202.81L353.53 1213.97L416.84 1294.19L480.14 1415.84L543.45 1479.24L606.76 1546.35L670.06 1579.11L733.37 1593.98L796.68 1600.36L859.99 1602.13L923.29 1601.24" fill="none" stroke="#7b2682" stroke-width="2.2" stroke-linejoin="round"/><path d="M100.3 1544.06V1555.72M94.47 1549.89H106.13M95.75 1545.34L104.85 1554.44M95.75 1554.44L104.85 1545.34" stroke="#7b2682" stroke-width="2.1" fill="none"/><path d="M163.61 1456.41V1468.07M157.78 1462.24H169.44M159.06 1457.69L168.15 1466.78M159.06 1466.78L168.15 1457.69" stroke="#7b2682" stroke-width="2.1" fill="none"/><path d="M226.91 1331.56V1343.22M221.08 1337.39H232.74M222.37 1332.85L231.46 1341.94M222.37 1341.94L231.46 1332.85" stroke="#7b2682" stroke-width="2.1" fill="none"/><path d="M290.22 1196.98V1208.64M284.39 1202.81H296.05M285.67 1198.27L294.77 1207.36M285.67 1207.36L294.77 1198.27" stroke="#7b2682" stroke-width="2.1" fill="none"/><path d="M353.53 1208.14V1219.8M347.7 1213.97H359.36M348.98 1209.42L358.08 1218.52M348.98 1218.52L358.08 1209.42" stroke="#7b2682" stroke-width="2.1" fill="none"/><path d="M416.84 1288.36V1300.02M411.01 1294.19H422.67M412.29 1289.64L421.38 1298.73M412.29 1298.73L421.38 1289.64" stroke="#7b2682" stroke-width="2.1" fill="none"/><path d="M480.14 1410.01V1421.67M474.31 1415.84H485.97M475.6 1411.29L484.69 1420.39M475.6 1420.39L484.69 1411.29" stroke="#7b2682" stroke-width="2.1" fill="none"/><path d="M543.45 1473.41V1485.07M537.62 1479.24H549.28M538.9 1474.69L548 1483.78M538.9 1483.78L548 1474.69" stroke="#7b2682" stroke-width="2.1" fill="none"/><path d="M606.76 1540.52V1552.18M600.93 1546.35H612.59M602.21 1541.8L611.3 1550.9M602.21 1550.9L611.3 1541.8" stroke="#7b2682" stroke-width="2.1" fill="none"/><path d="M670.06 1573.28V1584.94M664.23 1579.11H675.89M665.52 1574.56L674.61 1583.66M665.52 1583.66L674.61 1574.56" stroke="#7b2682" stroke-width="2.1" fill="none"/><path d="M733.37 1588.15V1599.81M727.54 1593.98H739.2M728.82 1589.44L737.92 1598.53M728.82 1598.53L737.92 1589.44" stroke="#7b2682" stroke-width="2.1" fill="none"/><path d="M796.68 1594.53V1606.19M790.85 1600.36H802.51M792.13 1595.81L801.23 1604.91M792.13 1604.91L801.23 1595.81" stroke="#7b2682" stroke-width="2.1" fill="none"/><path d="M859.99 1596.3V1607.96M854.16 1602.13H865.82M855.44 1597.58L864.53 1606.68M855.44 1606.68L864.53 1597.58" stroke="#7b2682" stroke-width="2.1" fill="none"/><path d="M923.29 1595.41V1607.07M917.46 1601.24H929.12M918.75 1596.7L927.84 1605.79M918.75 1605.79L927.84 1596.7" stroke="#7b2682" stroke-width="2.1" fill="none"/><path d="M100.3 1585.31L163.61 1500.31L226.91 1425.23L290.22 1367.5L353.53 1382.02L416.84 1437L480.14 1487.2L543.45 1548.03L606.76 1573.62L670.06 1595.05L733.37 1601.24L796.68 1601.24L859.99 1603.01L923.29 1603.01" fill="none" stroke="#4c6b4e" stroke-width="2.2" stroke-linejoin="round"/><polygon points="97.54,1580.71 97.54,1589.91 105.59,1585.31" fill="none" stroke="#4c6b4e" stroke-width="2.1" stroke-linejoin="miter"/><polygon points="160.85,1495.71 160.85,1504.91 168.9,1500.31" fill="none" stroke="#4c6b4e" stroke-width="2.1" stroke-linejoin="miter"/><polygon points="224.15,1420.63 224.15,1429.83 232.2,1425.23" fill="none" stroke="#4c6b4e" stroke-width="2.1" stroke-linejoin="miter"/><polygon points="287.46,1362.9 287.46,1372.1 295.51,1367.5" fill="none" stroke="#4c6b4e" stroke-width="2.1" stroke-linejoin="miter"/><polygon points="350.77,1377.42 350.77,1386.62 358.82,1382.02" fill="none" stroke="#4c6b4e" stroke-width="2.1" stroke-linejoin="miter"/><polygon points="414.08,1432.4 414.08,1441.6 422.13,1437" fill="none" stroke="#4c6b4e" stroke-width="2.1" stroke-linejoin="miter"/><polygon points="477.38,1482.6 477.38,1491.8 485.43,1487.2" fill="none" stroke="#4c6b4e" stroke-width="2.1" stroke-linejoin="miter"/><polygon points="540.69,1543.43 540.69,1552.63 548.74,1548.03" fill="none" stroke="#4c6b4e" stroke-width="2.1" stroke-linejoin="miter"/><polygon points="604,1569.02 604,1578.22 612.05,1573.62" fill="none" stroke="#4c6b4e" stroke-width="2.1" stroke-linejoin="miter"/><polygon points="667.3,1590.45 667.3,1599.65 675.35,1595.05" fill="none" stroke="#4c6b4e" stroke-width="2.1" stroke-linejoin="miter"/><polygon points="730.61,1596.64 730.61,1605.84 738.66,1601.24" fill="none" stroke="#4c6b4e" stroke-width="2.1" stroke-linejoin="miter"/><polygon points="793.92,1596.64 793.92,1605.84 801.97,1601.24" fill="none" stroke="#4c6b4e" stroke-width="2.1" stroke-linejoin="miter"/><polygon points="857.23,1598.41 857.23,1607.61 865.28,1603.01" fill="none" stroke="#4c6b4e" stroke-width="2.1" stroke-linejoin="miter"/><polygon points="920.53,1598.41 920.53,1607.61 928.58,1603.01" fill="none" stroke="#4c6b4e" stroke-width="2.1" stroke-linejoin="miter"/><path d="M100.3 1564.06L163.61 1490.83L226.91 1349.79L290.22 1283.83L353.53 1301.36L416.84 1354.22L480.14 1437.62L543.45 1505.44L606.76 1552.81L670.06 1585.04L733.37 1597.97L796.68 1601.24L859.99 1602.13L923.29 1602.13" fill="none" stroke="#e2232d" stroke-width="2.2" stroke-linejoin="round"/><polygon points="103.06,1559.46 103.06,1568.66 95.01,1564.06" fill="none" stroke="#e2232d" stroke-width="2.1" stroke-linejoin="miter"/><polygon points="166.37,1486.23 166.37,1495.43 158.32,1490.83" fill="none" stroke="#e2232d" stroke-width="2.1" stroke-linejoin="miter"/><polygon points="229.67,1345.19 229.67,1354.39 221.62,1349.79" fill="none" stroke="#e2232d" stroke-width="2.1" stroke-linejoin="miter"/><polygon points="292.98,1279.23 292.98,1288.43 284.93,1283.83" fill="none" stroke="#e2232d" stroke-width="2.1" stroke-linejoin="miter"/><polygon points="356.29,1296.76 356.29,1305.96 348.24,1301.36" fill="none" stroke="#e2232d" stroke-width="2.1" stroke-linejoin="miter"/><polygon points="419.6,1349.62 419.6,1358.82 411.55,1354.22" fill="none" stroke="#e2232d" stroke-width="2.1" stroke-linejoin="miter"/><polygon points="482.9,1433.02 482.9,1442.22 474.85,1437.62" fill="none" stroke="#e2232d" stroke-width="2.1" stroke-linejoin="miter"/><polygon points="546.21,1500.84 546.21,1510.04 538.16,1505.44" fill="none" stroke="#e2232d" stroke-width="2.1" stroke-linejoin="miter"/><polygon points="609.52,1548.21 609.52,1557.41 601.47,1552.81" fill="none" stroke="#e2232d" stroke-width="2.1" stroke-linejoin="miter"/><polygon points="672.82,1580.44 672.82,1589.64 664.77,1585.04" fill="none" stroke="#e2232d" stroke-width="2.1" stroke-linejoin="miter"/><polygon points="736.13,1593.37 736.13,1602.57 728.08,1597.97" fill="none" stroke="#e2232d" stroke-width="2.1" stroke-linejoin="miter"/><polygon points="799.44,1596.64 799.44,1605.84 791.39,1601.24" fill="none" stroke="#e2232d" stroke-width="2.1" stroke-linejoin="miter"/><polygon points="862.75,1597.53 862.75,1606.73 854.7,1602.13" fill="none" stroke="#e2232d" stroke-width="2.1" stroke-linejoin="miter"/><polygon points="926.05,1597.53 926.05,1606.73 918,1602.13" fill="none" stroke="#e2232d" stroke-width="2.1" stroke-linejoin="miter"/><path d="M100.3 1593.28L163.61 1515.8L226.91 1297.2L290.22 1162.97L353.53 1259.83L416.84 1477.64L480.14 1554.41L543.45 1579.99L606.76 1587.96L670.06 1603.01L733.37 1603.9L796.68 1603.9L859.99 1603.9L923.29 1603.9" fill="none" stroke="#f39c2c" stroke-width="2.2" stroke-linejoin="round"/><polygon points="95.7,1596.04 104.9,1596.04 100.3,1587.99" fill="none" stroke="#f39c2c" stroke-width="2.1" stroke-linejoin="miter"/><polygon points="159.01,1518.56 168.21,1518.56 163.61,1510.51" fill="none" stroke="#f39c2c" stroke-width="2.1" stroke-linejoin="miter"/><polygon points="222.31,1299.96 231.51,1299.96 226.91,1291.91" fill="none" stroke="#f39c2c" stroke-width="2.1" stroke-linejoin="miter"/><polygon points="285.62,1165.73 294.82,1165.73 290.22,1157.68" fill="none" stroke="#f39c2c" stroke-width="2.1" stroke-linejoin="miter"/><polygon points="348.93,1262.59 358.13,1262.59 353.53,1254.54" fill="none" stroke="#f39c2c" stroke-width="2.1" stroke-linejoin="miter"/><polygon points="412.24,1480.4 421.44,1480.4 416.84,1472.35" fill="none" stroke="#f39c2c" stroke-width="2.1" stroke-linejoin="miter"/><polygon points="475.54,1557.17 484.74,1557.17 480.14,1549.12" fill="none" stroke="#f39c2c" stroke-width="2.1" stroke-linejoin="miter"/><polygon points="538.85,1582.75 548.05,1582.75 543.45,1574.7" fill="none" stroke="#f39c2c" stroke-width="2.1" stroke-linejoin="miter"/><polygon points="602.16,1590.72 611.36,1590.72 606.76,1582.67" fill="none" stroke="#f39c2c" stroke-width="2.1" stroke-linejoin="miter"/><polygon points="665.46,1605.77 674.66,1605.77 670.06,1597.72" fill="none" stroke="#f39c2c" stroke-width="2.1" stroke-linejoin="miter"/><polygon points="728.77,1606.66 737.97,1606.66 733.37,1598.61" fill="none" stroke="#f39c2c" stroke-width="2.1" stroke-linejoin="miter"/><polygon points="792.08,1606.66 801.28,1606.66 796.68,1598.61" fill="none" stroke="#f39c2c" stroke-width="2.1" stroke-linejoin="miter"/><polygon points="855.39,1606.66 864.59,1606.66 859.99,1598.61" fill="none" stroke="#f39c2c" stroke-width="2.1" stroke-linejoin="miter"/><polygon points="918.69,1606.66 927.89,1606.66 923.29,1598.61" fill="none" stroke="#f39c2c" stroke-width="2.1" stroke-linejoin="miter"/><path d="M100.3 1599.47L163.61 1527.76L226.91 1473.21L290.22 1426.82L353.53 1418.23L416.84 1484.02L480.14 1491.99L543.45 1550.78L606.76 1575.21L670.06 1599.03L733.37 1602.13L796.68 1603.01L859.99 1603.9L923.29 1603.9" fill="none" stroke="#2d4597" stroke-width="2.2" stroke-linejoin="round"/><polygon points="95.7,1596.71 104.9,1596.71 100.3,1604.76" fill="none" stroke="#2d4597" stroke-width="2.1" stroke-linejoin="miter"/><polygon points="159.01,1525 168.21,1525 163.61,1533.05" fill="none" stroke="#2d4597" stroke-width="2.1" stroke-linejoin="miter"/><polygon points="222.31,1470.45 231.51,1470.45 226.91,1478.5" fill="none" stroke="#2d4597" stroke-width="2.1" stroke-linejoin="miter"/><polygon points="285.62,1424.06 294.82,1424.06 290.22,1432.11" fill="none" stroke="#2d4597" stroke-width="2.1" stroke-linejoin="miter"/><polygon points="348.93,1415.47 358.13,1415.47 353.53,1423.52" fill="none" stroke="#2d4597" stroke-width="2.1" stroke-linejoin="miter"/><polygon points="412.24,1481.26 421.44,1481.26 416.84,1489.31" fill="none" stroke="#2d4597" stroke-width="2.1" stroke-linejoin="miter"/><polygon points="475.54,1489.23 484.74,1489.23 480.14,1497.28" fill="none" stroke="#2d4597" stroke-width="2.1" stroke-linejoin="miter"/><polygon points="538.85,1548.02 548.05,1548.02 543.45,1556.07" fill="none" stroke="#2d4597" stroke-width="2.1" stroke-linejoin="miter"/><polygon points="602.16,1572.45 611.36,1572.45 606.76,1580.5" fill="none" stroke="#2d4597" stroke-width="2.1" stroke-linejoin="miter"/><polygon points="665.46,1596.27 674.66,1596.27 670.06,1604.32" fill="none" stroke="#2d4597" stroke-width="2.1" stroke-linejoin="miter"/><polygon points="728.77,1599.37 737.97,1599.37 733.37,1607.42" fill="none" stroke="#2d4597" stroke-width="2.1" stroke-linejoin="miter"/><polygon points="792.08,1600.25 801.28,1600.25 796.68,1608.3" fill="none" stroke="#2d4597" stroke-width="2.1" stroke-linejoin="miter"/><polygon points="855.39,1601.14 864.59,1601.14 859.99,1609.19" fill="none" stroke="#2d4597" stroke-width="2.1" stroke-linejoin="miter"/><polygon points="918.69,1601.14 927.89,1601.14 923.29,1609.19" fill="none" stroke="#2d4597" stroke-width="2.1" stroke-linejoin="miter"/><path d="M100.3 1550.78L163.61 1473.21L226.91 1339.17L290.22 1209.01L353.53 1222.03L416.84 1294.19L480.14 1416.81L543.45 1482.42L606.76 1549.01L670.06 1580.88L733.37 1595.05L796.68 1601.24L859.99 1602.13L923.29 1601.24" fill="none" stroke="#7b2682" stroke-width="2.2" stroke-linejoin="round" stroke-dasharray="6 3 2 3"/><rect x="96.05" y="1546.53" width="8.5" height="8.5" fill="none" stroke="#7b2682" stroke-width="2.1"/><rect x="159.36" y="1468.96" width="8.5" height="8.5" fill="none" stroke="#7b2682" stroke-width="2.1"/><rect x="222.66" y="1334.92" width="8.5" height="8.5" fill="none" stroke="#7b2682" stroke-width="2.1"/><rect x="285.97" y="1204.76" width="8.5" height="8.5" fill="none" stroke="#7b2682" stroke-width="2.1"/><rect x="349.28" y="1217.78" width="8.5" height="8.5" fill="none" stroke="#7b2682" stroke-width="2.1"/><rect x="412.59" y="1289.94" width="8.5" height="8.5" fill="none" stroke="#7b2682" stroke-width="2.1"/><rect x="475.89" y="1412.56" width="8.5" height="8.5" fill="none" stroke="#7b2682" stroke-width="2.1"/><rect x="539.2" y="1478.17" width="8.5" height="8.5" fill="none" stroke="#7b2682" stroke-width="2.1"/><rect x="602.51" y="1544.76" width="8.5" height="8.5" fill="none" stroke="#7b2682" stroke-width="2.1"/><rect x="665.81" y="1576.63" width="8.5" height="8.5" fill="none" stroke="#7b2682" stroke-width="2.1"/><rect x="729.12" y="1590.8" width="8.5" height="8.5" fill="none" stroke="#7b2682" stroke-width="2.1"/><rect x="792.43" y="1596.99" width="8.5" height="8.5" fill="none" stroke="#7b2682" stroke-width="2.1"/><rect x="855.74" y="1597.88" width="8.5" height="8.5" fill="none" stroke="#7b2682" stroke-width="2.1"/><rect x="919.04" y="1596.99" width="8.5" height="8.5" fill="none" stroke="#7b2682" stroke-width="2.1"/><path d="M100.3 1587.08L163.61 1502.08L226.91 1435.67L290.22 1368.56L353.53 1389.99L416.84 1448.16L480.14 1489.68L543.45 1549.01L606.76 1574.68L670.06 1595.93L733.37 1601.24L796.68 1597.97L859.99 1603.01L923.29 1603.01" fill="none" stroke="#4c6b4e" stroke-width="2.2" stroke-linejoin="round" stroke-dasharray="6 3 2 3"/><rect x="96.05" y="1582.83" width="8.5" height="8.5" fill="none" stroke="#4c6b4e" stroke-width="2.1"/><rect x="159.36" y="1497.83" width="8.5" height="8.5" fill="none" stroke="#4c6b4e" stroke-width="2.1"/><rect x="222.66" y="1431.42" width="8.5" height="8.5" fill="none" stroke="#4c6b4e" stroke-width="2.1"/><rect x="285.97" y="1364.31" width="8.5" height="8.5" fill="none" stroke="#4c6b4e" stroke-width="2.1"/><rect x="349.28" y="1385.74" width="8.5" height="8.5" fill="none" stroke="#4c6b4e" stroke-width="2.1"/><rect x="412.59" y="1443.91" width="8.5" height="8.5" fill="none" stroke="#4c6b4e" stroke-width="2.1"/><rect x="475.89" y="1485.43" width="8.5" height="8.5" fill="none" stroke="#4c6b4e" stroke-width="2.1"/><rect x="539.2" y="1544.76" width="8.5" height="8.5" fill="none" stroke="#4c6b4e" stroke-width="2.1"/><rect x="602.51" y="1570.43" width="8.5" height="8.5" fill="none" stroke="#4c6b4e" stroke-width="2.1"/><rect x="665.81" y="1591.68" width="8.5" height="8.5" fill="none" stroke="#4c6b4e" stroke-width="2.1"/><rect x="729.12" y="1596.99" width="8.5" height="8.5" fill="none" stroke="#4c6b4e" stroke-width="2.1"/><rect x="792.43" y="1593.72" width="8.5" height="8.5" fill="none" stroke="#4c6b4e" stroke-width="2.1"/><rect x="855.74" y="1598.76" width="8.5" height="8.5" fill="none" stroke="#4c6b4e" stroke-width="2.1"/><rect x="919.04" y="1598.76" width="8.5" height="8.5" fill="none" stroke="#4c6b4e" stroke-width="2.1"/><path d="M100.3 1570.25L163.61 1497.21L226.91 1355.1L290.22 1290.82L353.53 1316.41L416.84 1355.63L480.14 1440.81L543.45 1505.62L606.76 1556.09L670.06 1586.19L733.37 1598.59L796.68 1601.24L859.99 1602.13L923.29 1602.13" fill="none" stroke="#e2232d" stroke-width="2.2" stroke-linejoin="round" stroke-dasharray="6 3 2 3"/><rect x="96.05" y="1566" width="8.5" height="8.5" fill="none" stroke="#e2232d" stroke-width="2.1"/><rect x="159.36" y="1492.96" width="8.5" height="8.5" fill="none" stroke="#e2232d" stroke-width="2.1"/><rect x="222.66" y="1350.85" width="8.5" height="8.5" fill="none" stroke="#e2232d" stroke-width="2.1"/><rect x="285.97" y="1286.57" width="8.5" height="8.5" fill="none" stroke="#e2232d" stroke-width="2.1"/><rect x="349.28" y="1312.16" width="8.5" height="8.5" fill="none" stroke="#e2232d" stroke-width="2.1"/><rect x="412.59" y="1351.38" width="8.5" height="8.5" fill="none" stroke="#e2232d" stroke-width="2.1"/><rect x="475.89" y="1436.56" width="8.5" height="8.5" fill="none" stroke="#e2232d" stroke-width="2.1"/><rect x="539.2" y="1501.37" width="8.5" height="8.5" fill="none" stroke="#e2232d" stroke-width="2.1"/><rect x="602.51" y="1551.84" width="8.5" height="8.5" fill="none" stroke="#e2232d" stroke-width="2.1"/><rect x="665.81" y="1581.94" width="8.5" height="8.5" fill="none" stroke="#e2232d" stroke-width="2.1"/><rect x="729.12" y="1594.34" width="8.5" height="8.5" fill="none" stroke="#e2232d" stroke-width="2.1"/><rect x="792.43" y="1596.99" width="8.5" height="8.5" fill="none" stroke="#e2232d" stroke-width="2.1"/><rect x="855.74" y="1597.88" width="8.5" height="8.5" fill="none" stroke="#e2232d" stroke-width="2.1"/><rect x="919.04" y="1597.88" width="8.5" height="8.5" fill="none" stroke="#e2232d" stroke-width="2.1"/><path d="M100.3 1593.28L163.61 1542.81L226.91 1324.38L290.22 1182.01L353.53 1278.6L416.84 1494.64L480.14 1562.99L543.45 1584.16L606.76 1591.24L670.06 1603.01L733.37 1603.9L796.68 1603.9L859.99 1603.9L923.29 1603.9" fill="none" stroke="#f39c2c" stroke-width="2.2" stroke-linejoin="round" stroke-dasharray="6 3 2 3"/><rect x="96.05" y="1589.03" width="8.5" height="8.5" fill="none" stroke="#f39c2c" stroke-width="2.1"/><rect x="159.36" y="1538.56" width="8.5" height="8.5" fill="none" stroke="#f39c2c" stroke-width="2.1"/><rect x="222.66" y="1320.13" width="8.5" height="8.5" fill="none" stroke="#f39c2c" stroke-width="2.1"/><rect x="285.97" y="1177.76" width="8.5" height="8.5" fill="none" stroke="#f39c2c" stroke-width="2.1"/><rect x="349.28" y="1274.35" width="8.5" height="8.5" fill="none" stroke="#f39c2c" stroke-width="2.1"/><rect x="412.59" y="1490.39" width="8.5" height="8.5" fill="none" stroke="#f39c2c" stroke-width="2.1"/><rect x="475.89" y="1558.74" width="8.5" height="8.5" fill="none" stroke="#f39c2c" stroke-width="2.1"/><rect x="539.2" y="1579.91" width="8.5" height="8.5" fill="none" stroke="#f39c2c" stroke-width="2.1"/><rect x="602.51" y="1586.99" width="8.5" height="8.5" fill="none" stroke="#f39c2c" stroke-width="2.1"/><rect x="665.81" y="1598.76" width="8.5" height="8.5" fill="none" stroke="#f39c2c" stroke-width="2.1"/><rect x="729.12" y="1599.65" width="8.5" height="8.5" fill="none" stroke="#f39c2c" stroke-width="2.1"/><rect x="792.43" y="1599.65" width="8.5" height="8.5" fill="none" stroke="#f39c2c" stroke-width="2.1"/><rect x="855.74" y="1599.65" width="8.5" height="8.5" fill="none" stroke="#f39c2c" stroke-width="2.1"/><rect x="919.04" y="1599.65" width="8.5" height="8.5" fill="none" stroke="#f39c2c" stroke-width="2.1"/><path d="M100.3 1599.47L163.61 1531.74L226.91 1476.4L290.22 1441.16L353.53 1437L416.84 1487.2L480.14 1498.36L543.45 1554.41L606.76 1576.45L670.06 1599.47L733.37 1602.13L796.68 1603.01L859.99 1603.9L923.29 1603.9" fill="none" stroke="#2d4597" stroke-width="2.2" stroke-linejoin="round" stroke-dasharray="6 3 2 3"/><rect x="96.05" y="1595.22" width="8.5" height="8.5" fill="none" stroke="#2d4597" stroke-width="2.1"/><rect x="159.36" y="1527.49" width="8.5" height="8.5" fill="none" stroke="#2d4597" stroke-width="2.1"/><rect x="222.66" y="1472.15" width="8.5" height="8.5" fill="none" stroke="#2d4597" stroke-width="2.1"/><rect x="285.97" y="1436.91" width="8.5" height="8.5" fill="none" stroke="#2d4597" stroke-width="2.1"/><rect x="349.28" y="1432.75" width="8.5" height="8.5" fill="none" stroke="#2d4597" stroke-width="2.1"/><rect x="412.59" y="1482.95" width="8.5" height="8.5" fill="none" stroke="#2d4597" stroke-width="2.1"/><rect x="475.89" y="1494.11" width="8.5" height="8.5" fill="none" stroke="#2d4597" stroke-width="2.1"/><rect x="539.2" y="1550.16" width="8.5" height="8.5" fill="none" stroke="#2d4597" stroke-width="2.1"/><rect x="602.51" y="1572.2" width="8.5" height="8.5" fill="none" stroke="#2d4597" stroke-width="2.1"/><rect x="665.81" y="1595.22" width="8.5" height="8.5" fill="none" stroke="#2d4597" stroke-width="2.1"/><rect x="729.12" y="1597.88" width="8.5" height="8.5" fill="none" stroke="#2d4597" stroke-width="2.1"/><rect x="792.43" y="1598.76" width="8.5" height="8.5" fill="none" stroke="#2d4597" stroke-width="2.1"/><rect x="855.74" y="1599.65" width="8.5" height="8.5" fill="none" stroke="#2d4597" stroke-width="2.1"/><rect x="919.04" y="1599.65" width="8.5" height="8.5" fill="none" stroke="#2d4597" stroke-width="2.1"/><rect x="712" y="1212" width="250" height="346" fill="#fff" stroke="#000" stroke-width="2"/><path d="M716.8 1230.8H741.4" stroke="#2d4597" stroke-width="2.2"/><polygon points="724.5,1228.04 733.7,1228.04 729.1,1236.09" fill="none" stroke="#2d4597" stroke-width="2.1" stroke-linejoin="miter"/><text x="743.5" y="1240.3" font-size="28.8" style="fill:#000">LM (E-R)</text><path d="M716.8 1265.1H728.9M731.3 1265.1H738.8M740 1265.1H741.3" stroke="#2d4597" stroke-width="2.2"/><rect x="724.55" y="1260.55" width="9.1" height="9.1" fill="none" stroke="#2d4597" stroke-width="2.1"/><text x="743.5" y="1274.6" font-size="28.8" style="fill:#000">MM (E-R)</text><path d="M716.8 1299.4H741.4" stroke="#f39c2c" stroke-width="2.2"/><polygon points="724.5,1302.16 733.7,1302.16 729.1,1294.11" fill="none" stroke="#f39c2c" stroke-width="2.1" stroke-linejoin="miter"/><text x="743.5" y="1308.9" font-size="28.8" style="fill:#000">LM (B-A)</text><path d="M716.8 1333.7H728.9M731.3 1333.7H738.8M740 1333.7H741.3" stroke="#f39c2c" stroke-width="2.2"/><rect x="724.55" y="1329.15" width="9.1" height="9.1" fill="none" stroke="#f39c2c" stroke-width="2.1"/><text x="743.5" y="1343.2" font-size="28.8" style="fill:#000">MM (B-A)</text><path d="M716.8 1368H741.4" stroke="#e2232d" stroke-width="2.2"/><polygon points="731.86,1363.4 731.86,1372.6 723.81,1368" fill="none" stroke="#e2232d" stroke-width="2.1" stroke-linejoin="miter"/><text x="743.5" y="1377.5" font-size="28.8" style="fill:#000">LM (Gamma)</text><path d="M716.8 1402.3H728.9M731.3 1402.3H738.8M740 1402.3H741.3" stroke="#e2232d" stroke-width="2.2"/><rect x="724.55" y="1397.75" width="9.1" height="9.1" fill="none" stroke="#e2232d" stroke-width="2.1"/><text x="743.5" y="1411.8" font-size="28.8" style="fill:#000">MM (Gamma)</text><path d="M716.8 1436.6H741.4" stroke="#4c6b4e" stroke-width="2.2"/><polygon points="726.34,1432 726.34,1441.2 734.39,1436.6" fill="none" stroke="#4c6b4e" stroke-width="2.1" stroke-linejoin="miter"/><text x="743.5" y="1446.1" font-size="28.8" style="fill:#000">LM (Chi-squared)</text><path d="M716.8 1470.9H728.9M731.3 1470.9H738.8M740 1470.9H741.3" stroke="#4c6b4e" stroke-width="2.2"/><rect x="724.55" y="1466.35" width="9.1" height="9.1" fill="none" stroke="#4c6b4e" stroke-width="2.1"/><text x="743.5" y="1480.4" font-size="28.8" style="fill:#000">MM (Chi-squared)</text><path d="M716.8 1505.2H741.4" stroke="#7b2682" stroke-width="2.2"/><path d="M729.1 1499.37V1511.03M723.27 1505.2H734.93M724.55 1500.65L733.65 1509.75M724.55 1509.75L733.65 1500.65" stroke="#7b2682" stroke-width="2.1" fill="none"/><text x="743.5" y="1514.7" font-size="28.8" style="fill:#000">LM (Weibull)</text><path d="M716.8 1539.5H728.9M731.3 1539.5H738.8M740 1539.5H741.3" stroke="#7b2682" stroke-width="2.2"/><rect x="724.55" y="1534.95" width="9.1" height="9.1" fill="none" stroke="#7b2682" stroke-width="2.1"/><text x="743.5" y="1549" font-size="28.8" style="fill:#000">MM(Weibull)</text>
</svg>
</body></html>
